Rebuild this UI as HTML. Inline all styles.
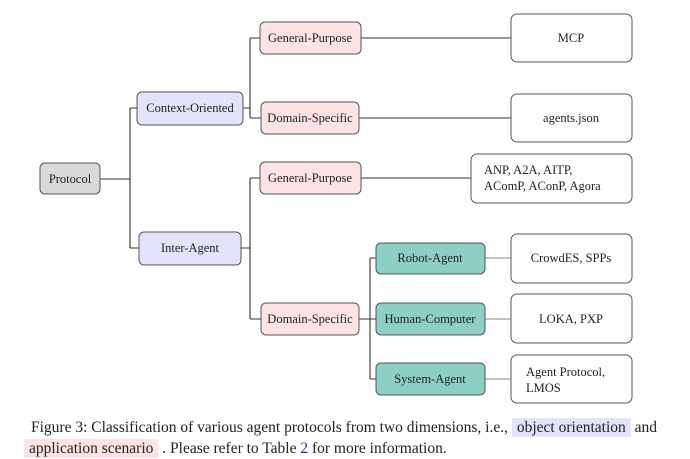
<!DOCTYPE html>
<html><head><meta charset="utf-8"><style>
html,body{margin:0;padding:0;background:#fff;width:690px;height:459px;overflow:hidden}
svg text{font-family:"Liberation Serif",serif;font-size:12.5px;fill:#222}
.cap{position:absolute;left:31px;font-family:"Liberation Serif",serif;font-size:15.5px;color:#222;white-space:nowrap}
</style></head><body>
<svg width="690" height="459" style="position:absolute;left:0;top:0">
<g stroke="#333" stroke-width="1.1" fill="none">
<path d="M100 179H130M130 108V248M130 108H137M130 248H139"/>
<path d="M243 108H250M250 38V118M250 38H260M250 118H261"/>
<path d="M241 248H250M250 178V319M250 178H260M250 319H261"/>
<path d="M361 38H511M359 118H511M361 178H471"/>
<path d="M359 319H376M370 258V379M370 258H376M370 379H376"/>
<path d="M485 258H511M485 319H511M485 379H511" stroke="#888"/>
</g>
<g stroke="#555" stroke-width="1">
<rect x="40" y="163" width="60" height="31" rx="5" fill="#d9d9d9"/>
<rect x="137" y="92" width="106" height="33" rx="5" fill="#e3e3fb"/>
<rect x="139" y="232" width="102" height="33" rx="5" fill="#e3e3fb"/>
<rect x="260" y="22" width="101" height="32" rx="5" fill="#fde3e3"/>
<rect x="261" y="102" width="98" height="32" rx="5" fill="#fde3e3"/>
<rect x="260" y="162" width="101" height="32" rx="5" fill="#fde3e3"/>
<rect x="261" y="303" width="98" height="32" rx="5" fill="#fde3e3"/>
<rect x="376" y="243" width="109" height="31" rx="5" fill="#8ccfc5"/>
<rect x="376" y="303" width="109" height="32" rx="5" fill="#8ccfc5"/>
<rect x="376" y="363" width="109" height="32" rx="5" fill="#8ccfc5"/>
<rect x="511" y="14" width="121" height="48" rx="6" fill="#fff"/>
<rect x="511" y="94" width="121" height="48" rx="6" fill="#fff"/>
<rect x="471" y="154" width="161" height="49" rx="6" fill="#fff"/>
<rect x="511" y="234" width="121" height="49" rx="6" fill="#fff"/>
<rect x="511" y="294" width="121" height="49" rx="6" fill="#fff"/>
<rect x="511" y="355" width="121" height="48" rx="6" fill="#fff"/>
</g>
<g text-anchor="middle">
<text x="70" y="183">Protocol</text>
<text x="190" y="112">Context-Oriented</text>
<text x="190" y="252">Inter-Agent</text>
<text x="310" y="42">General-Purpose</text>
<text x="310" y="122">Domain-Specific</text>
<text x="310" y="182">General-Purpose</text>
<text x="310" y="323">Domain-Specific</text>
<text x="430" y="262">Robot-Agent</text>
<text x="430" y="323">Human-Computer</text>
<text x="430" y="383">System-Agent</text>
<text x="571" y="42">MCP</text>
<text x="571" y="122">agents.json</text>
<text x="571" y="262">CrowdES, SPPs</text>
<text x="571" y="323">LOKA, PXP</text>
</g>
<text x="484" y="174">ANP, A2A, AITP,</text>
<text x="484" y="190">AComP, AConP, Agora</text>
<text x="526" y="376">Agent Protocol,</text>
<text x="526" y="392">LMOS</text>
</svg>
<div class="cap" style="top:419px">Figure 3: Classification of various agent protocols from two dimensions, i.e., <span style="background:#e3e3fb;padding:1px 5px">object orientation</span> and</div>
<div class="cap" style="top:440px"><span style="background:#fde3e3;padding:1px 5px;margin-left:-7px;">application scenario</span> . Please refer to Table <span style="color:#2a2a9a">2</span> for more information.</div>
</body></html>
